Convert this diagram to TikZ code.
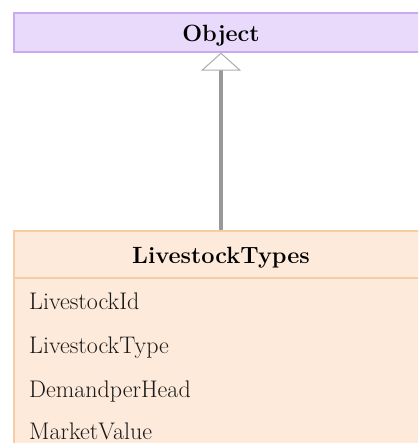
\documentclass[tikz,border=0pt]{standalone}
\usepackage{fontspec}
\usetikzlibrary{arrows.meta}
\definecolor{objfill}{HTML}{E9DAFB}
\definecolor{objline}{HTML}{C8AAEE}
\definecolor{ltfill}{HTML}{FDEADA}
\definecolor{ltline}{HTML}{F6CDA4}
\definecolor{conn}{HTML}{999999}
\tikzset{
  classbox/.style={draw, line width=1.2pt, inner sep=0pt, minimum width=426pt},
  objbox/.style={classbox, fill=objfill, draw=objline, minimum height=39pt},
  ltbox/.style={classbox, fill=ltfill, draw=ltline},
  headtext/.style={font=\fontsize{23.5}{28}\selectfont\bfseries, text=black, inner sep=0pt},
  attr/.style={font=\fontsize{24}{28}\selectfont, text=black!90, anchor=base west, inner sep=0pt},
  gen/.style={draw=conn, line width=3.5pt, -{Triangle[open, width=40pt, length=18pt, line width=1pt, color=conn!80, fill=white]}}
}
\begin{document}
\begin{tikzpicture}[x=1pt,y=-1pt]
\useasboundingbox (0,0) rectangle (418,443);
\clip (0,0) rectangle (418,443);
\fill[white] (0,0) rectangle (418,443);
% Object
\node[objbox] (obj) at (227,32.5) {};
\node[headtext, anchor=base] (objtxt) at (221,42) {Object};
% LivestockTypes
\node[ltbox, minimum height=240pt] (ltbody) at (227,351) {};
\node[ltbox, minimum height=47pt] (lthead) at (227,254.5) {};
\node[headtext, anchor=base] (lttxt) at (221,263) {LivestockTypes};
\node[attr] (a1) at (29,309) {LivestockId};
\node[attr] (a2) at (29,353) {LivestockType};
\node[attr] (a3) at (29,397) {DemandperHead};
\node[attr] (a4) at (29,439) {MarketValue};
% generalization
\coordinate (ax) at (221,0);
\draw[gen] (lthead.north -| ax) -- (obj.south -| ax);
\end{tikzpicture}
\end{document}
